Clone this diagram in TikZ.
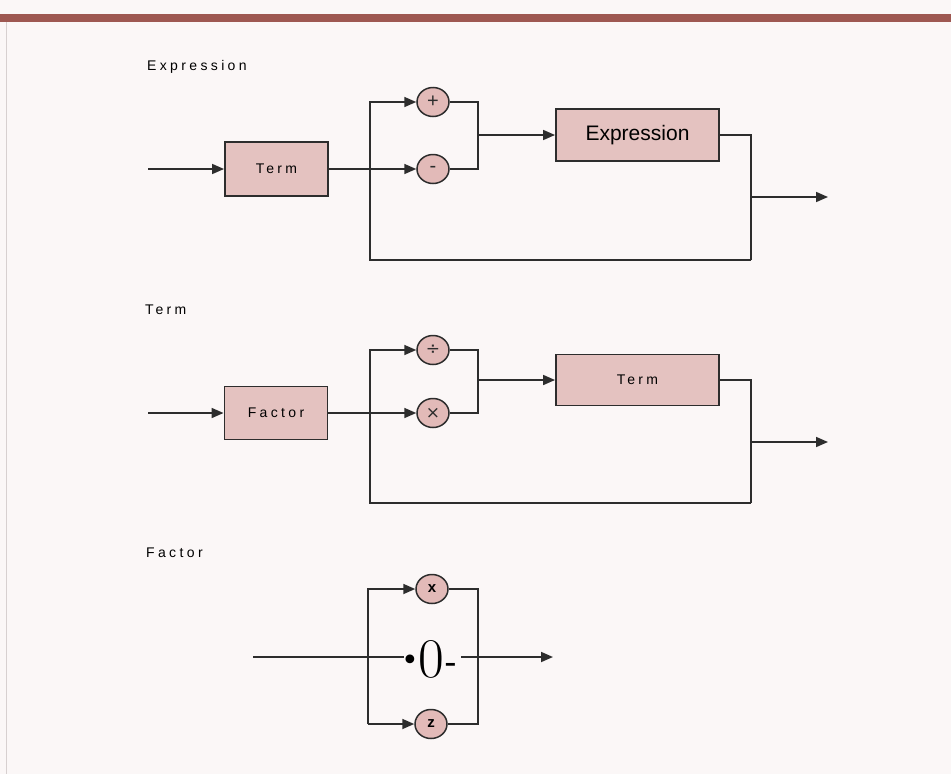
\documentclass[tikz,border=0pt]{standalone}
\usepackage{fontspec}
\usetikzlibrary{arrows.meta,shapes.geometric}
\newfontfamily\labfont{Liberation Sans}[LetterSpace=24]
\newfontfamily\arialfont{Liberation Sans}
\newfontfamily\dvfont{DejaVu Sans}
\definecolor{bgc}{RGB}{251,247,247}
\definecolor{barc}{RGB}{158,88,82}
\definecolor{boxfill}{RGB}{228,194,192}
\definecolor{circfill}{RGB}{226,186,184}
\definecolor{linec}{RGB}{45,45,45}
\definecolor{edgec}{RGB}{215,208,208}
\tikzset{
  wire/.style={draw=linec, line width=1.7pt},
  arr/.style={wire, -{Triangle[length=12pt,width=10pt]}},
  rulebox/.style={draw=linec, line width=1.9pt, fill=boxfill, rectangle, inner sep=0pt, font=\labfont\fontsize{14}{16}\selectfont},
  opnode/.style={draw=linec, line width=1.5pt, fill=circfill, ellipse, inner sep=0pt, minimum width=32pt, minimum height=29pt, text=linec},
  title/.style={anchor=base west, inner sep=0pt, font=\labfont\fontsize{14}{16}\selectfont}
}
\begin{document}
\begin{tikzpicture}[x=1pt,y=-1pt]
\fill[bgc] (0,0) rectangle (951,774);
\useasboundingbox (0,0) rectangle (951,774);
\fill[barc] (0,14) rectangle (951,22);
\draw[edgec, line width=1pt] (6,22) -- (6,774);

% ---------- Expression ----------
\node[title] (lab1) at (147,70) {Expression};
\coordinate (in1) at (148,169);
\node[rulebox, minimum width=103pt, minimum height=54pt] (term1) at (276.5,169) {Term};
\node[opnode, font=\arialfont\fontsize{20}{20}\selectfont] (plus) at (433,102) {+};
\node[opnode, font=\arialfont\fontsize{20}{20}\selectfont] (minus) at (433,169) {-};
\node[rulebox, minimum width=163pt, minimum height=52pt, font=\arialfont\fontsize{21}{24}\selectfont] (expr1) at (637.5,135) {Expression};
\coordinate (m1) at (478,135);
\coordinate (r1b) at (751,260);
\coordinate (b1) at (370,260);
\coordinate (o1s) at (751,197);
\coordinate (o1e) at (828,197);
\draw[arr] (in1) -- (term1.west);
\draw[arr] (term1.east) -- (minus.west);
\draw[arr] (r1b) -- (b1) |- (plus.west);
\draw[wire] (plus.east) -| (m1);
\draw[wire] (minus.east) -| (m1);
\draw[arr] (m1) -- (expr1.west);
\draw[wire] (expr1.east) -| (r1b);
\draw[arr] (o1s) -- (o1e);

% ---------- Term ----------
\node[title] (lab2) at (145,314) {Term};
\coordinate (in2) at (148,413);
\node[rulebox, minimum width=103pt, minimum height=53pt] (fac2) at (276,413) {Factor};
\node[opnode, font=\dvfont\fontsize{17}{17}\selectfont] (divn) at (433,350) {÷};
\node[opnode, font=\dvfont\fontsize{17}{17}\selectfont] (timesn) at (433,413) {×};
\node[rulebox, minimum width=163pt, minimum height=51pt] (term2) at (637.5,380) {Term};
\coordinate (m2) at (478,380);
\coordinate (r2b) at (751,503);
\coordinate (b2) at (370,503);
\coordinate (o2s) at (751,442);
\coordinate (o2e) at (828,442);
\draw[arr] (in2) -- (fac2.west);
\draw[arr] (fac2.east) -- (timesn.west);
\draw[arr] (r2b) -- (b2) |- (divn.west);
\draw[wire] (divn.east) -| (m2);
\draw[wire] (timesn.east) -| (m2);
\draw[arr] (m2) -- (term2.west);
\draw[wire] (term2.east) -| (r2b);
\draw[arr] (o2s) -- (o2e);

% ---------- Factor ----------
\node[title] (lab3) at (146,557) {Factor};
\node[opnode, font=\arialfont\bfseries\fontsize{15}{15}\selectfont, text=black] (xn) at (432,589) {x};
\node[opnode, font=\arialfont\bfseries\fontsize{15}{15}\selectfont, text=black] (zn) at (431,724) {z};
\coordinate (L3t) at (368,589);
\coordinate (L3b) at (368,724);
\coordinate (R3t) at (478,589);
\coordinate (R3b) at (478,724);
\draw[arr] (L3b) -- (L3t) -- (xn.west);
\draw[arr] (L3b) -- (zn.west);
\draw[wire] (xn.east) -- (R3t) -- (R3b) -- (zn.east);
\node[inner sep=0pt, anchor=base west] (glyph3) at (401,677)
  {\raisebox{7pt}{\dvfont\fontsize{30}{30}\selectfont •}{\fontsize{56}{56}\selectfont 0}\kern1pt\raisebox{6pt}{\bfseries\fontsize{30}{30}\selectfont -}};
\coordinate (in3) at (253,657);
\coordinate (in3e) at (404,657);
\coordinate (out3s) at (461,657);
\coordinate (out3) at (553,657);
\draw[wire] (in3) -- (in3e);
\draw[arr] (out3s) -- (out3);
\end{tikzpicture}
\end{document}
